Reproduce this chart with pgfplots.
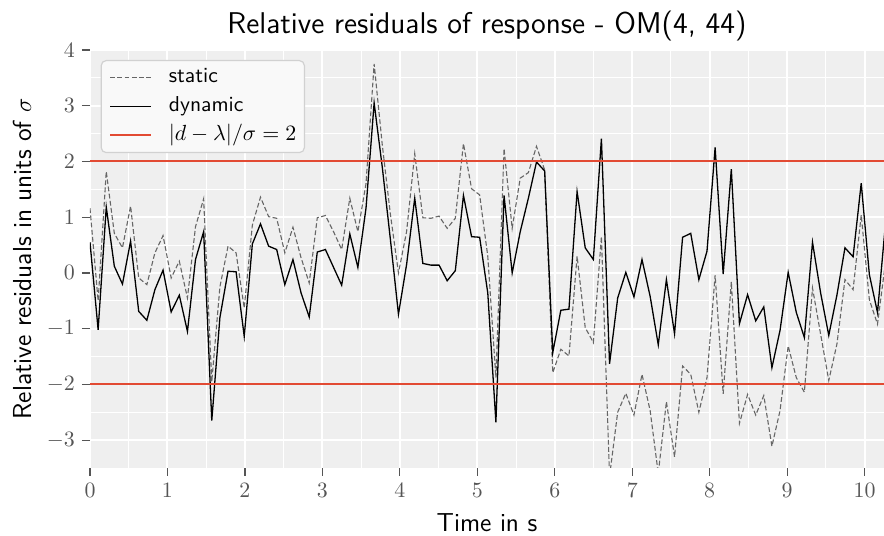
\documentclass[border=0pt]{standalone}
\usepackage{pgfplots}
\pgfplotsset{compat=1.18}
\usepackage{pgfplotstable}
\definecolor{bgc}{HTML}{EFEFEF}
\definecolor{ggred}{RGB}{226,74,51}
\definecolor{tickgray}{HTML}{555555}
\definecolor{legfill}{HTML}{F9F9F9}

\pgfplotstableread{
t dyn stat
0.000 0.55 1.16
0.105 -1.02 -0.50
0.210 1.18 1.82
0.314 0.12 0.71
0.419 -0.20 0.45
0.524 0.57 1.20
0.629 -0.69 -0.09
0.734 -0.85 -0.21
0.838 -0.30 0.36
0.943 0.05 0.67
1.048 -0.70 -0.09
1.153 -0.40 0.21
1.258 -1.05 -0.45
1.362 0.24 0.83
1.467 0.74 1.33
1.572 -2.65 -1.95
1.677 -0.80 -0.25
1.782 0.03 0.48
1.886 0.02 0.36
1.991 -1.14 -0.63
2.096 0.52 0.86
2.201 0.88 1.36
2.306 0.48 1.01
2.410 0.42 0.98
2.515 -0.21 0.36
2.620 0.24 0.82
2.725 -0.36 0.27
2.830 -0.79 -0.18
2.934 0.375 0.99
3.039 0.42 1.03
3.144 0.10 0.74
3.249 -0.22 0.42
3.354 0.70 1.34
3.458 0.10 0.74
3.563 1.16 1.60
3.668 3.05 3.75
3.773 1.90 2.30
3.878 0.60 1.05
3.982 -0.74 0.00
4.087 0.15 0.74
4.192 1.34 2.14
4.297 0.17 0.99
4.402 0.14 0.98
4.506 0.14 1.02
4.611 -0.14 0.80
4.716 0.04 0.98
4.821 1.39 2.32
4.926 0.65 1.51
5.030 0.64 1.40
5.135 -0.36 0.30
5.240 -2.68 -1.88
5.345 1.39 2.23
5.450 0.00 0.80
5.554 0.74 1.70
5.659 1.34 1.80
5.764 1.99 2.27
5.869 1.83 1.85
5.974 -1.43 -1.79
6.078 -0.67 -1.37
6.183 -0.65 -1.49
6.288 1.46 0.30
6.393 0.45 -0.98
6.498 0.24 -1.25
6.602 2.41 0.65
6.707 -1.63 -3.65
6.812 -0.45 -2.50
6.917 0.01 -2.16
7.022 -0.43 -2.55
7.126 0.24 -1.82
7.231 -0.42 -2.47
7.336 -1.29 -3.60
7.441 -0.12 -2.31
7.546 -1.09 -3.30
7.650 0.64 -1.67
7.755 0.71 -1.82
7.860 -0.12 -2.50
7.965 0.39 -1.88
8.070 2.25 -0.04
8.174 -0.02 -2.17
8.279 1.86 -0.16
8.384 -0.91 -2.70
8.489 -0.39 -2.18
8.594 -0.86 -2.55
8.698 -0.61 -2.20
8.803 -1.70 -3.11
8.908 -1.03 -2.47
9.013 0.01 -1.31
9.118 -0.71 -1.88
9.222 -1.16 -2.14
9.327 0.55 -0.27
9.432 -0.36 -1.10
9.537 -1.12 -1.93
9.642 -0.40 -1.28
9.746 0.45 -0.12
9.851 0.29 -0.30
9.956 1.61 1.04
10.061 -0.03 -0.48
10.166 -0.71 -0.92
10.270 0.90 0.20
}\resid

\pgfplotstableread{
x lo hi
0 -2 2
10.25 -2 2
}\limits

\begin{document}
\begin{tikzpicture}
\begin{axis}[
  name=ax,
  scale only axis,
  width=397pt, height=209pt,
  xmin=0, xmax=10.25, ymin=-3.5, ymax=4,
  xtick={0,1,...,10}, ytick={-3,-2,...,4},
  minor tick num=1,
  grid=both,
  major grid style={white, line width=1pt},
  minor grid style={white, line width=0.5pt},
  axis background/.style={fill=bgc},
  axis line style={draw=none},
  tick align=outside,
  tick pos=left,
  major tick length=4pt,
  minor tick length=0pt,
  major tick style={tickgray, line width=0.6pt},
  ticklabel style={font=\fontsize{10.8}{13}\selectfont, text=tickgray},
  title={Relative residuals of response - OM(4, 44)},
  every axis title/.style={at={(rel axis cs:0.5,1)}, anchor=center, yshift=12pt, font=\fontsize{15}{18}\selectfont\sffamily},
  xlabel={Time in s},
  ylabel={Relative residuals in units of $\sigma$},
  every axis x label/.style={at={(rel axis cs:0.5,0)}, anchor=center, yshift=-27.5pt, font=\fontsize{13}{15}\selectfont\sffamily},
  every axis y label/.style={at={(rel axis cs:0,0.5)}, xshift=-34pt, rotate=90, anchor=center, font=\fontsize{13}{15}\selectfont\sffamily},
  legend cell align=left,
  legend image code/.code={\draw[#1] (0pt,0pt) -- (20.5pt,0pt);},
  legend style={at={(rel axis cs:0,1)}, anchor=north west, xshift=5.3pt, yshift=-5pt,
    draw=black!18, line width=0.6pt, fill=legfill, rounded corners=2.5pt,
    font=\fontsize{10.8}{13}\selectfont\sffamily,
    inner xsep=4pt, inner ysep=3.6pt, row sep=4.4pt, column sep=8.35pt,
    nodes={inner sep=0pt, text height=0.75em, text depth=0.25em}},
]
\addplot[black!60, line width=0.55pt, dash pattern=on 2.4pt off 1.2pt] table[x=t, y=stat] {\resid};
\addlegendentry{static}
\addplot[black, line width=0.65pt] table[x=t, y=dyn] {\resid};
\addlegendentry{dynamic}
\addplot[ggred, line width=1pt, forget plot] table[x=x, y=hi] {\limits};
\addplot[ggred, line width=1pt, forget plot] table[x=x, y=lo] {\limits};
\addlegendimage{ggred, line width=1pt}
\addlegendentry{$|d-\lambda|/\sigma=2$}
\end{axis}
\pgfresetboundingbox
\path[use as bounding box] ([xshift=-45pt,yshift=-34pt]ax.south west) rectangle ([yshift=25pt]ax.north east);
\end{tikzpicture}
\end{document}
